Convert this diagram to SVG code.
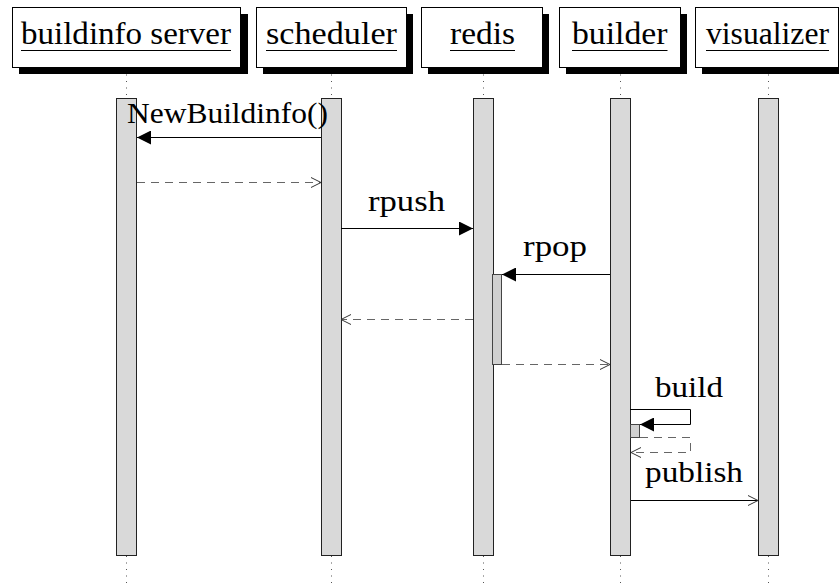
<svg xmlns="http://www.w3.org/2000/svg" width="839" height="588" viewBox="0 0 839 588">
  <defs>
    <style>
      .hdr { fill: #ffffff; stroke: #000000; stroke-width: 1; }
      .shadow { fill: #000000; }
      .title { font-family: "Liberation Serif", "DejaVu Serif", serif; font-size: 31px; fill: #000000; }
      .uline { stroke: #000000; stroke-width: 1.2; }
      .life { stroke: #555555; stroke-width: 1; stroke-dasharray: 1 5.5; fill: none; }
      .bar { fill: #d9d9d9; stroke: #222222; stroke-width: 1; }
      .sub { fill: #d0d0d0; stroke: #444444; stroke-width: 1; }
      .call { stroke: #000000; stroke-width: 1; fill: none; }
      .ret { stroke: #666666; stroke-width: 1; stroke-dasharray: 8 6; fill: none; }
      .lbl { font-family: "Liberation Serif", "DejaVu Serif", serif; font-size: 30px; fill: #000000; }
    </style>
    <marker id="solid" markerWidth="14" markerHeight="14" refX="14" refY="7" orient="auto" markerUnits="userSpaceOnUse">
      <path d="M0,0 L14,7 L0,14 Z" fill="#000000"/>
    </marker>
    <marker id="open" markerWidth="12" markerHeight="12" refX="11" refY="6" orient="auto" markerUnits="userSpaceOnUse">
      <path d="M1,1 L11,6 L1,11" fill="none" stroke="#333333" stroke-width="1"/>
    </marker>
  </defs>

  <!-- lifelines (dotted) -->
  <g id="lifelines">
    <line class="life" x1="126.5" y1="68" x2="126.5" y2="98"/>
    <line class="life" x1="126.5" y1="556" x2="126.5" y2="588"/>
    <line class="life" x1="331.5" y1="68" x2="331.5" y2="98"/>
    <line class="life" x1="331.5" y1="556" x2="331.5" y2="588"/>
    <line class="life" x1="483.5" y1="68" x2="483.5" y2="98"/>
    <line class="life" x1="483.5" y1="556" x2="483.5" y2="588"/>
    <line class="life" x1="620.5" y1="68" x2="620.5" y2="98"/>
    <line class="life" x1="620.5" y1="556" x2="620.5" y2="588"/>
    <line class="life" x1="768.5" y1="68" x2="768.5" y2="98"/>
    <line class="life" x1="768.5" y1="556" x2="768.5" y2="588"/>
  </g>

  <g id="buildinfo-server">
    <rect class="shadow" x="19" y="14" width="229" height="60"/>
    <rect class="hdr" x="12.5" y="7.5" width="228" height="60"/>
    <text class="title" x="21" y="44" textLength="210" lengthAdjust="spacingAndGlyphs">buildinfo server</text>
    <line class="uline" x1="21" y1="50.5" x2="231" y2="50.5"/>
    <rect class="bar" x="116.5" y="98.5" width="20" height="457"/>
  </g>

  <g id="scheduler">
    <rect class="shadow" x="263" y="14" width="150" height="60"/>
    <rect class="hdr" x="256.5" y="7.5" width="150" height="60"/>
    <text class="title" x="266" y="44" textLength="131" lengthAdjust="spacingAndGlyphs">scheduler</text>
    <line class="uline" x1="266" y1="50.5" x2="397" y2="50.5"/>
    <rect class="bar" x="321.5" y="98.5" width="20" height="457"/>
  </g>

  <g id="redis">
    <rect class="shadow" x="428" y="14" width="121" height="60"/>
    <rect class="hdr" x="421.5" y="7.5" width="121" height="60"/>
    <text class="title" x="450" y="44" textLength="65" lengthAdjust="spacingAndGlyphs">redis</text>
    <line class="uline" x1="450" y1="50.5" x2="515" y2="50.5"/>
    <rect class="bar" x="473.5" y="98.5" width="20" height="457"/>
    <rect class="sub" x="492.5" y="274.5" width="9" height="90"/>
  </g>

  <g id="builder">
    <rect class="shadow" x="566" y="14" width="121" height="60"/>
    <rect class="hdr" x="559.5" y="7.5" width="121" height="60"/>
    <text class="title" x="572" y="44" textLength="95.5" lengthAdjust="spacingAndGlyphs">builder</text>
    <line class="uline" x1="572" y1="50.5" x2="667.5" y2="50.5"/>
    <rect class="bar" x="610.5" y="98.5" width="20" height="457"/>
    <rect class="sub" x="630.5" y="424.5" width="9" height="13"/>
  </g>

  <g id="visualizer">
    <rect class="shadow" x="702" y="14" width="140" height="60"/>
    <rect class="hdr" x="695.5" y="7.5" width="143" height="60"/>
    <text class="title" x="706" y="44" textLength="123" lengthAdjust="spacingAndGlyphs">visualizer</text>
    <line class="uline" x1="706" y1="50.5" x2="829" y2="50.5"/>
    <rect class="bar" x="758.5" y="98.5" width="20" height="457"/>
  </g>

  <!-- messages -->
  <g id="connectors">
    <line class="call" x1="321" y1="137.5" x2="137" y2="137.5" marker-end="url(#solid)"/>
    <line class="ret" x1="137" y1="182.5" x2="321" y2="182.5" marker-end="url(#open)"/>
    <line class="call" x1="341" y1="228.5" x2="473" y2="228.5" marker-end="url(#solid)"/>
    <line class="call" x1="610" y1="274.5" x2="502" y2="274.5" marker-end="url(#solid)"/>
    <line class="ret" x1="473" y1="319.5" x2="341" y2="319.5" marker-end="url(#open)"/>
    <line class="ret" x1="502" y1="364.5" x2="610" y2="364.5" marker-end="url(#open)"/>
    <polyline class="call" points="630,409.5 690.5,409.5 690.5,424.5 640,424.5" marker-end="url(#solid)"/>
    <polyline class="ret" points="640,437.5 690.5,437.5 690.5,452.5 631,452.5" marker-end="url(#open)"/>
    <line class="call" x1="631" y1="500.5" x2="758" y2="500.5" marker-end="url(#open)"/>
  </g>

  <g id="labels">
    <text class="lbl" x="127" y="123" textLength="201" lengthAdjust="spacingAndGlyphs">NewBuildinfo()</text>
    <text class="lbl" x="368" y="211" textLength="77" lengthAdjust="spacingAndGlyphs">rpush</text>
    <text class="lbl" x="523" y="256" textLength="64" lengthAdjust="spacingAndGlyphs">rpop</text>
    <text class="lbl" x="655" y="397" textLength="68" lengthAdjust="spacingAndGlyphs">build</text>
    <text class="lbl" x="645" y="482" textLength="98" lengthAdjust="spacingAndGlyphs">publish</text>
  </g>
</svg>
